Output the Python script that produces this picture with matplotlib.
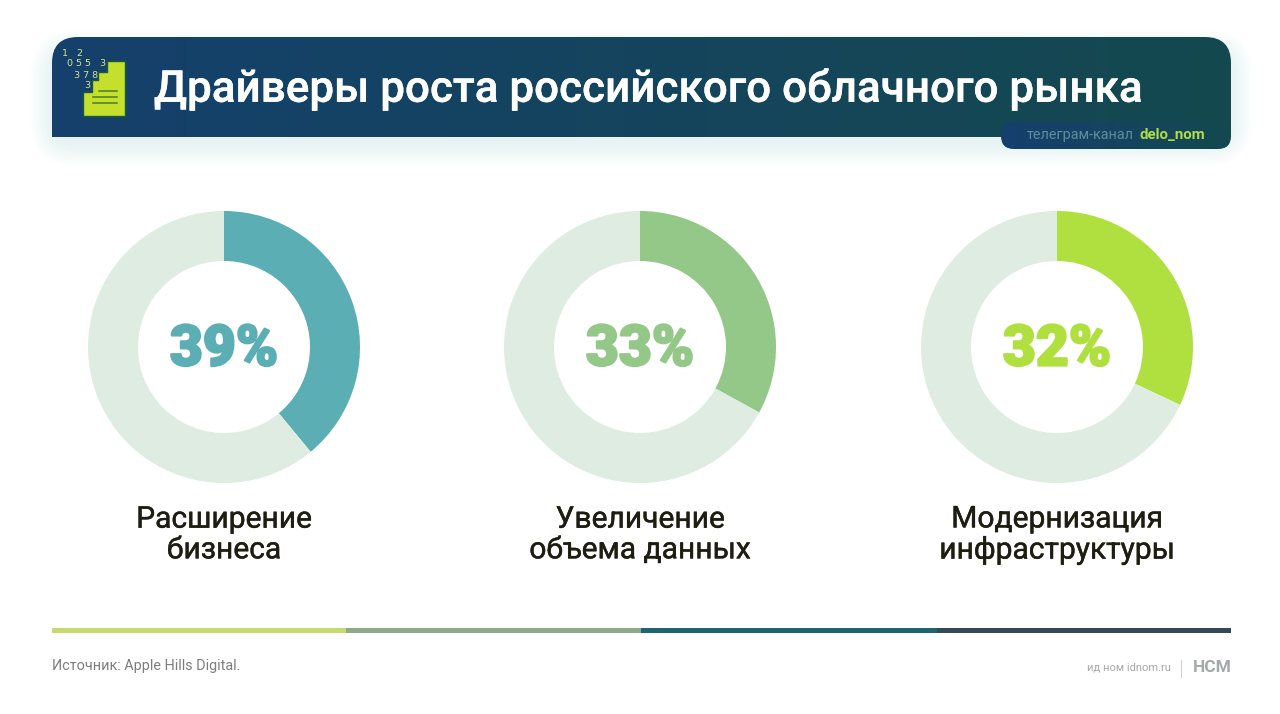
import matplotlib
matplotlib.use("Agg")
import matplotlib.pyplot as plt
import matplotlib.patheffects as pe
import numpy as np
from matplotlib.path import Path
from matplotlib.patches import PathPatch, FancyBboxPatch, Polygon, Rectangle

W, H = 1280, 714

title = "Драйверы роста российского облачного рынка"
channel_prefix = "телеграм-канал"
channel_name = "delo_nom"
categories = ["Расширение\nбизнеса", "Увеличение\nобъема данных", "Модернизация\nинфраструктуры"]
shares = [39, 33, 32]
colors = ["#5aaeb4", "#93c888", "#b0e040"]
rest_color = "#dfece2"
source = "Источник: Apple Hills Digital."
publisher = "ид ном idnom.ru"
logo = "НСМ"
bar_colors = ["#c6da70", "#8fa98c", "#1e6472", "#33495a"]

plt.rcParams["font.family"] = ["Roboto", "DejaVu Sans"]

fig = plt.figure(figsize=(W / 100, H / 100), dpi=100, facecolor="white")
ax = fig.add_axes([0, 0, 1, 1])
ax.set_xlim(0, W)
ax.set_ylim(H, 0)
ax.axis("off")


def header_path(x0, y0, x1, y1, r):
    # верхние углы скруглены, нижние прямые
    verts = [(x0, y1), (x0, y0 + r), (x0, y0), (x0 + r, y0), (x1 - r, y0), (x1, y0), (x1, y0 + r), (x1, y1), (x0, y1)]
    codes = [Path.MOVETO, Path.LINETO, Path.CURVE3, Path.CURVE3, Path.LINETO, Path.CURVE3, Path.CURVE3, Path.LINETO, Path.CLOSEPOLY]
    return Path(verts, codes)


# мягкая тень под шапкой
for i in range(12):
    grow = 22 - i * 1.8
    ax.add_patch(FancyBboxPatch((52 - grow, 52 - grow), 1179 + 2 * grow, 92 + 2 * grow,
                                boxstyle="round,pad=0,rounding_size=%f" % (24 + grow),
                                fc="#6fb0bd", ec="none", alpha=0.006, zorder=1))

gradient = np.linspace(0, 1, 256).reshape(1, -1)
cmap = matplotlib.colors.LinearSegmentedColormap.from_list("head", ["#15406c", "#14494f"])
img = ax.imshow(gradient, extent=(52, 1231, 137, 37), cmap=cmap, aspect="auto", zorder=2)
clip = PathPatch(header_path(52, 37, 1231, 137, 26), transform=ax.transData, fc="none", ec="none")
ax.add_patch(clip)
img.set_clip_path(clip)
ax.set_xlim(0, W)
ax.set_ylim(H, 0)

# плашка с телеграм-каналом
tab_cmap = matplotlib.colors.LinearSegmentedColormap.from_list("tab", ["#163f6e", "#14494f"])
tab = ax.imshow(gradient, extent=(1001, 1231, 149, 122), cmap=tab_cmap, aspect="auto", zorder=3)
tab_box = FancyBboxPatch((1001, 122), 230, 27, boxstyle="round,pad=0,rounding_size=13",
                         transform=ax.transData, fc="none", ec="none")
ax.add_patch(tab_box)
tab.set_clip_path(tab_box)
ax.set_xlim(0, W)
ax.set_ylim(H, 0)
ax.text(1027, 135, channel_prefix, color="#5e8d9e", fontsize=10.4, va="center", zorder=4)
ax.text(1140, 135, channel_name, color="#b0dc4a", fontsize=10.8, fontweight="bold", va="center", zorder=4)

ax.text(154, 89, title, color="white", fontsize=31.6, fontweight="medium", va="center", zorder=4,
        path_effects=[pe.withStroke(linewidth=0.3, foreground="white")])

# значок
icon = [(83, 116), (83, 92), (92, 92), (92, 80), (98, 80), (98, 72), (107, 72), (107, 61), (125, 61), (125, 116)]
ax.add_patch(Polygon(icon, closed=True, fc="#c4e02c", ec="#1d5a3a", lw=1.0, joinstyle="round", zorder=4))
for y, x0 in [(91, 99), (97, 93), (103, 93)]:
    ax.plot([x0, 117], [y, y], color="#4d7a2a", lw=1.1, zorder=5)
for x, y, s in [(65, 54, "1"), (79, 54, "2"), (79, 64, "0 5 5"), (102, 63, "3"), (86, 75, "3 7 8"), (87, 86, "3")]:
    ax.text(x, y, s, color="#d4e88a", fontsize=6.8, family="DejaVu Sans", ha="center", va="center", zorder=5)

# кольца
centers = [224, 640, 1057]
cy, radius = 347, 136
for cx, share, color, cat in zip(centers, shares, colors, categories):
    dax = fig.add_axes([(cx - radius) / W, 1 - (cy + radius) / H, 2 * radius / W, 2 * radius / H])
    dax.pie([share, 100 - share], colors=[color, rest_color], startangle=90, counterclock=False,
            radius=1.0, wedgeprops={"width": 50 / 136, "linewidth": 0})
    dax.set_xlim(-1, 1)
    dax.set_ylim(-1, 1)
    dax.axis("off")
    ax.text(cx, 350, "%d%%" % share, color=color, fontsize=41, fontweight="black",
            ha="center", va="center", zorder=4,
            path_effects=[pe.withStroke(linewidth=1.6, foreground=color)])
    ax.text(cx, 535, cat, color="#1d1d12", fontsize=21.6, ha="center", va="center",
            linespacing=1.12, zorder=4, path_effects=[pe.withStroke(linewidth=0.3, foreground="#1d1d12")])

# полоса внизу
edges = [52, 346, 641, 937, 1231]
for i, c in enumerate(bar_colors):
    ax.add_patch(Rectangle((edges[i], 628), edges[i + 1] - edges[i], 5, fc=c, ec="none", zorder=2))

ax.text(52, 666, source, color="#7d7d7d", fontsize=10.4, va="center", zorder=4)
ax.text(1171, 668, publisher, color="#a8a8a8", fontsize=8, ha="right", va="center", zorder=4)
ax.plot([1181, 1181], [660, 677], color="#d0d0d0", lw=0.8, zorder=4)
ax.text(1232, 668, logo, color="#a3a8a8", fontsize=12.5, fontweight="bold", ha="right", va="center", zorder=4)

fig.savefig("out.png", dpi=100)
